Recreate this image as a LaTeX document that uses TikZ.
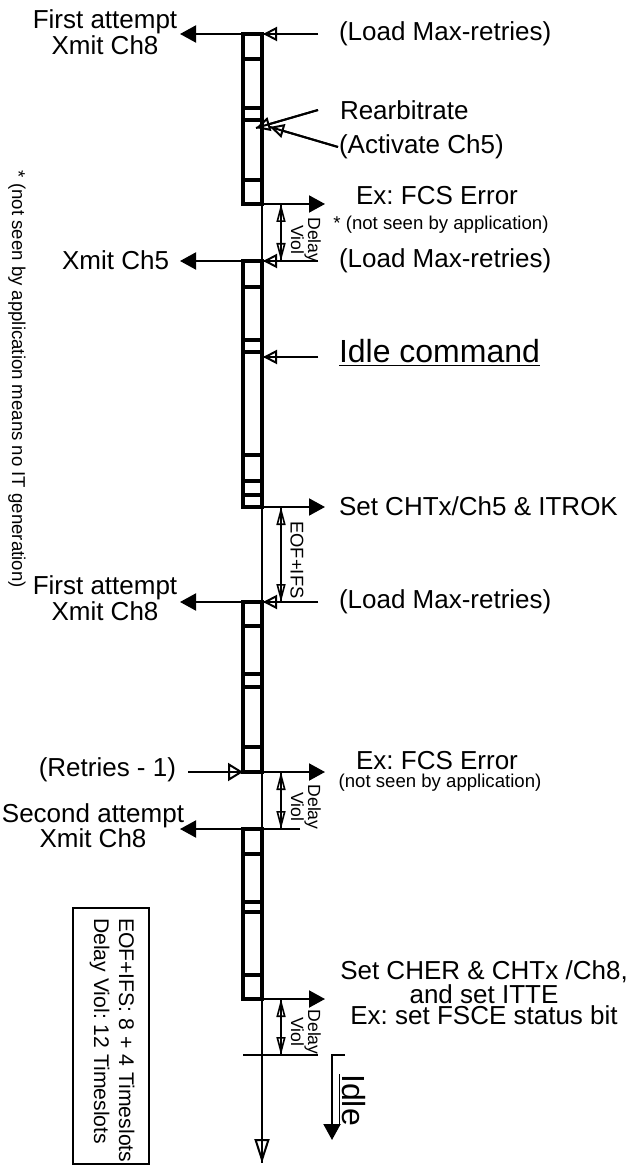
\documentclass[tikz,border=0pt]{standalone}
\usepackage{fontspec}
\setmainfont{Liberation Sans}
\usetikzlibrary{arrows.meta}
\frenchspacing

\begin{document}
\begin{tikzpicture}[x=0.5pt, y=-0.5pt, line width=1pt,
    every node/.style={inner sep=0pt, font=\fontsize{13}{11.5}\selectfont},
    slot/.style={line width=1.7pt},
    outarrow/.style={-{Triangle[length=8pt,width=8.5pt]}},
    inarrow/.style={-{Triangle[open,length=7pt,width=7pt]}, postaction={draw,-}},
    dimarrow/.style={line width=0.8pt, {Triangle[open,length=9pt,width=4.5pt]}-{Triangle[open,length=9pt,width=4.5pt]}, postaction={draw,-}},
    small/.style={font=\fontsize{9.3}{10}\selectfont},
    dimtext/.style={font=\fontsize{8.8}{8.5}\selectfont, rotate=-90, align=center}]
    \useasboundingbox (0,0) rectangle (635,1165);

    % 时间轴
    \coordinate (top) at (262,34);
    \coordinate (bot) at (262,1163);
    \draw[-{Triangle[open,length=12pt,width=7.5pt]}, postaction={draw,-}] (top) -- (bot);

    % 帧 (时隙方框)
    \draw[slot] (243,34) rectangle (262,204);
    \foreach \y in {59, 108, 120, 180} {
        \draw[slot] (243,\y) -- (262,\y);
    }
    \draw[slot] (243,261) rectangle (262,507);
    \foreach \y in {287, 340, 352, 455, 481, 495} {
        \draw[slot] (243,\y) -- (262,\y);
    }
    \draw[slot] (243,602) rectangle (262,772);
    \foreach \y in {626, 674, 687, 747} {
        \draw[slot] (243,\y) -- (262,\y);
    }
    \draw[slot] (243,829) rectangle (262,999);
    \foreach \y in {854, 902, 912, 975} {
        \draw[slot] (243,\y) -- (262,\y);
    }

    % 左侧: 发送
    \coordinate (x1) at (180,34);
    \coordinate (x2) at (180,261);
    \coordinate (x3) at (180,602);
    \coordinate (x4) at (180,829);
    \draw[outarrow] (262,34) -- (x1);
    \draw[outarrow] (262,261) -- (x2);
    \draw[outarrow] (262,602) -- (x3);
    \draw[outarrow] (300,829) -- (x4);
    \node[align=center] (first1) at (105,32) {First attempt\\Xmit Ch8};
    \node[anchor=east] (xmit5) at (170,260) {Xmit Ch5};
    \node[align=center] (first2) at (105,598) {First attempt\\Xmit Ch8};
    \node[align=center, font=\fontsize{13}{12.5}\selectfont] (second) at (93,826) {Second attempt\\Xmit Ch8};

    % 右侧: 命令 (空心箭头)
    \node[anchor=west] (load1) at (338,34) {(Load Max-retries)};
    \node[anchor=west] (rearb) at (339,110) {Rearbitrate};
    \node[anchor=west] (act5) at (338,147) {(Activate Ch5)};
    \node[anchor=west] (load2) at (338,261) {(Load Max-retries)};
    \node[anchor=west, font=\fontsize{16}{16}\selectfont] (idlecmd) at (338,353) {\underline{Idle command}};
    \node[anchor=west] (load3) at (338,602) {(Load Max-retries)};
    \draw[inarrow] (318,34) -- (263,34);
    \draw[inarrow] (318,110) -- (256,128);
    \draw[inarrow] (act5.west) -- (270,127);
    \draw[inarrow] (318,261) -- (263,261);
    \draw[inarrow] (318,357) -- (263,357);
    \draw[inarrow] (318,602) -- (263,602);
    \node[anchor=east] (retry) at (177,770) {(Retries - 1)};
    \draw[-{Triangle[open,length=7.5pt,width=9pt]}, postaction={draw,-}] (188,772) -- (243,772);

    % 右侧: 结果 (实心箭头)
    \draw[outarrow] (243,204) -- (325,204);
    \draw[outarrow] (243,507) -- (325,507);
    \draw[outarrow] (243,772) -- (325,772);
    \draw[outarrow] (243,999) -- (325,999);
    \node (err1) at (437,196) {Ex: FCS Error};
    \node[small] (nsee1) at (441,225) {* (not seen by application)};
    \node[anchor=west] (itrok) at (338,506) {Set CHTx/Ch5 \& ITROK};
    \node (err2) at (437,761) {Ex: FCS Error};
    \node[small] (nsee2) at (440,783) {(not seen by application)};
    \node[align=center, font=\fontsize{13}{10.5}\selectfont] (cher) at (484,993)
        {Set CHER \& CHTx /Ch8,\\and set ITTE\\Ex: set FSCE status bit};

    % 间隔标注
    \draw (243,1055) -- (318,1055);
    \draw[dimarrow] (281,204) -- (281,261);
    \draw[dimarrow] (281,507) -- (281,602);
    \draw[dimarrow] (281,772) -- (281,829);
    \draw[dimarrow] (281,999) -- (281,1055);
    \node[dimtext] (dv1) at (306,240) {Delay\\Viol};
    \node[dimtext, font=\fontsize{9.2}{9}\selectfont] (eof) at (297,560) {EOF+IFS};
    \node[dimtext] (dv2) at (306,807) {Delay\\Viol};
    \node[dimtext] (dv3) at (306,1032) {Delay\\Viol};

    % 空闲
    \draw[outarrow] (345,1055) -- (332,1055) -- (332,1140);
    \node[rotate=-90, font=\fontsize{16}{16}\selectfont] (idle) at (352,1100) {\underline{Idle}};

    % 说明
    \node[small, rotate=-90, anchor=west] (note) at (17,170) {* (not seen by application means no IT generation)};
    \draw (73,908) rectangle (149,1164);
    \node[rotate=-90, anchor=west, align=left, font=\fontsize{10.6}{12.5}\selectfont] (legend) at (112,917)
        {EOF+IFS: 8 + 4 Timeslots\\Delay Viol: 12 Timeslots};
\end{tikzpicture}
\end{document}
